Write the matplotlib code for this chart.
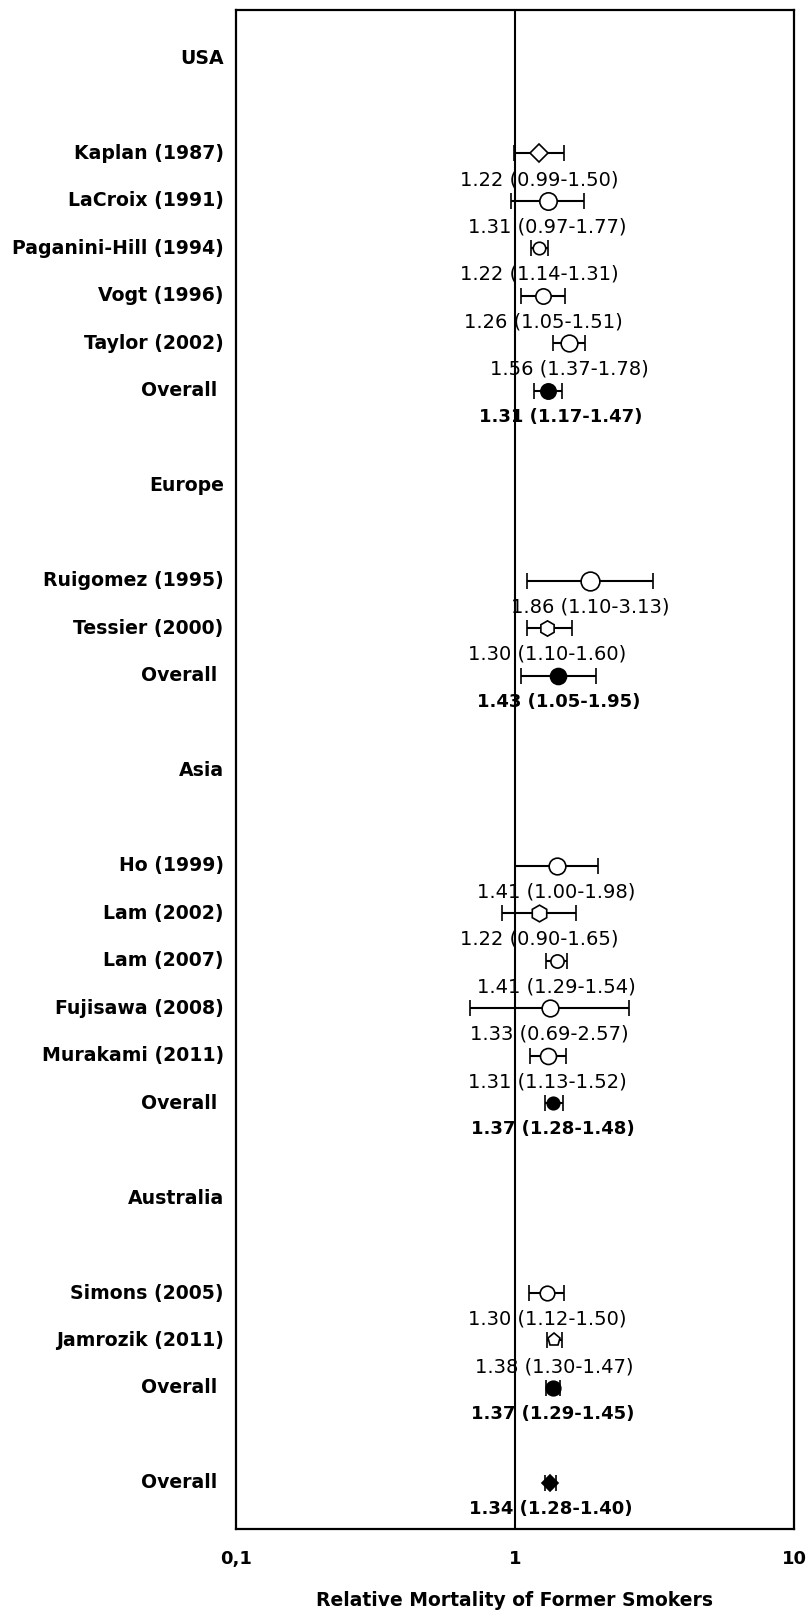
import matplotlib
matplotlib.use("Agg")
import matplotlib.pyplot as plt
from matplotlib.ticker import FixedLocator, FixedFormatter

# Rows of the forest plot, top to bottom (None = heading / blank row)
row_labels = [
    "USA", None,
    "Kaplan (1987)", "LaCroix (1991)", "Paganini-Hill (1994)", "Vogt (1996)",
    "Taylor (2002)", "Overall ", None,
    "Europe", None,
    "Ruigomez (1995)", "Tessier (2000)", "Overall ", None,
    "Asia", None,
    "Ho (1999)", "Lam (2002)", "Lam (2007)", "Fujisawa (2008)",
    "Murakami (2011)", "Overall ", None,
    "Australia", None,
    "Simons (2005)", "Jamrozik (2011)", "Overall ", None,
    "Overall ",
]

# Estimates and 95% CI for each study / pooled row (in row order)
est_rows = [2, 3, 4, 5, 6, 7, 11, 12, 13, 17, 18, 19, 20, 21, 22, 26, 27, 28, 30]
rr = [1.22, 1.31, 1.22, 1.26, 1.56, 1.31,
      1.86, 1.30, 1.43,
      1.41, 1.22, 1.41, 1.33, 1.31, 1.37,
      1.30, 1.38, 1.37,
      1.34]
ci_low = [0.99, 0.97, 1.14, 1.05, 1.37, 1.17,
          1.10, 1.10, 1.05,
          1.00, 0.90, 1.29, 0.69, 1.13, 1.28,
          1.12, 1.30, 1.29,
          1.28]
ci_high = [1.50, 1.77, 1.31, 1.51, 1.78, 1.47,
           3.13, 1.60, 1.95,
           1.98, 1.65, 1.54, 2.57, 1.52, 1.48,
           1.50, 1.47, 1.45,
           1.40]
pooled = [False, False, False, False, False, True,
          False, False, True,
          False, False, False, False, False, True,
          False, False, True,
          True]

x_ticks = [0.1, 1, 10]
x_tick_labels = ["0,1", "1", "10"]
x_label = "Relative Mortality of Former Smokers"

# Marker appearance per row
marker_shapes = ["D", "o", "o", "o", "o", "o",
                 "o", "h", "o",
                 "o", "h", "o", "o", "o", "o",
                 "o", "p", "o",
                 "D"]
marker_sizes = [9, 12.5, 9, 11, 12, 11,
                13.5, 11, 11.5,
                12, 12, 9.5, 12, 11.5, 9,
                10.5, 9.5, 10.5, 8]
# horizontal nudge (points) of the estimate text under each row
text_nudge = [0, 0, 0, 0, 0, 9,
              0, 0, 0,
              0, 0, 0, 0, 0, 0,
              0, 0, 0,
              0]

FONT = "DejaVu Sans"
plt.rcParams["font.family"] = [FONT]

W, H = 811, 1612
fig = plt.figure(figsize=(W / 100, H / 100), dpi=100)
left, right, top, bottom = 236, 794, 10, 1529
ax = fig.add_axes([left / W, 1 - bottom / H, (right - left) / W, (bottom - top) / H])

ax.set_xscale("log")
ax.set_xlim(0.1, 10)
ax.set_ylim(30.97, -1.02)

ax.axvline(1, color="black", lw=1.5, zorder=1)

for i, r in enumerate(est_rows):
    face = "black" if pooled[i] else "white"
    ax.errorbar(rr[i], r,
                xerr=[[rr[i] - ci_low[i]], [ci_high[i] - rr[i]]],
                fmt=marker_shapes[i], ms=marker_sizes[i], mfc=face, mec="black",
                mew=1.2, ecolor="black", elinewidth=1.5, capsize=5.5, capthick=2.6,
                color="black", zorder=3)
    txt = f"{rr[i]:.2f} ({ci_low[i]:.2f}-{ci_high[i]:.2f})"
    ax.annotate(txt, (rr[i], r + 0.55), xytext=(text_nudge[i], 0),
                textcoords="offset points", ha="center", va="center",
                fontsize=13 if pooled[i] else 14,
                fontweight="bold" if pooled[i] else "normal", zorder=4)

for r, lab in enumerate(row_labels):
    if lab is None:
        continue
    ax.text(-0.022, r, lab, transform=ax.get_yaxis_transform(), ha="right",
            va="center", fontsize=13.6, fontweight="bold")

ax.set_yticks([])
ax.xaxis.set_major_locator(FixedLocator(x_ticks))
ax.xaxis.set_major_formatter(FixedFormatter(x_tick_labels))
ax.xaxis.set_minor_locator(FixedLocator([]))
ax.tick_params(axis="x", length=0, pad=15, labelsize=13)
for t in ax.get_xticklabels():
    t.set_fontweight("bold")
ax.set_xlabel(x_label, fontsize=13.5, fontweight="bold", labelpad=17)

for s in ax.spines.values():
    s.set_linewidth(1.6)

fig.savefig("out.png", dpi=100)
